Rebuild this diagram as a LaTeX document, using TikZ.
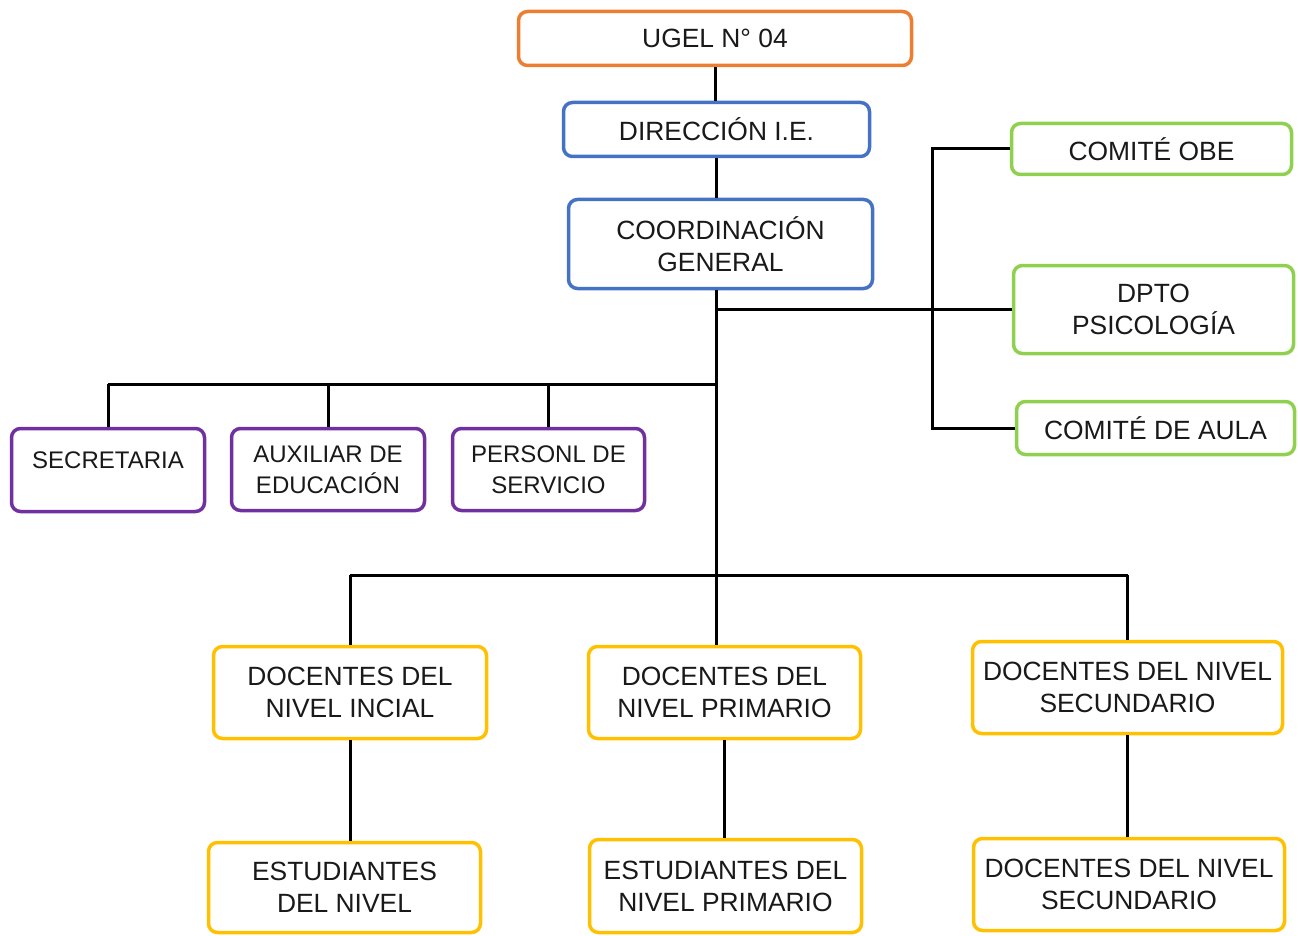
\documentclass[tikz,border=0pt]{standalone}
\usepackage{fontspec}
\setmainfont{Liberation Sans}
\usepackage{tikz}
\usepackage{xcolor}
\definecolor{ugel-orange}{HTML}{ED7D31}
\definecolor{dir-blue}{HTML}{4472C4}
\definecolor{com-green}{HTML}{8FD14F}
\definecolor{staff-purple}{HTML}{7030A0}
\definecolor{level-yellow}{HTML}{FFC000}
\tikzset{
    org-box/.style = {draw, fill=white, line width=3.5pt, rectangle, rounded corners=9pt, align=center, text=black!90, font=\fontsize{26.4}{32}\selectfont, inner sep=1pt},
    ugel-box/.style = {org-box, draw=ugel-orange},
    dir-box/.style = {org-box, draw=dir-blue},
    com-box/.style = {org-box, draw=com-green},
    staff-box/.style = {org-box, draw=staff-purple, font=\fontsize{24}{31}\selectfont},
    level-box/.style = {org-box, draw=level-yellow},
    org-line/.style = {draw=black, line width=3pt},
}

\begin{document}
\begin{tikzpicture}[x=1pt, y=-1pt]
\useasboundingbox (0,0) rectangle (1298,936);
\node[ugel-box, minimum width=393pt, minimum height=54pt] (ugel) at (715,38.5) {UGEL N° 04};
\node[dir-box, minimum width=306pt, minimum height=54pt] (dir) at (716.5,129.5) {DIRECCIÓN I.E.};
\node[dir-box, minimum width=304pt, minimum height=89pt] (coord) at (720.5,244) {COORDINACIÓN\\GENERAL};

\node[com-box, minimum width=280pt, minimum height=51pt] (obe) at (1151.5,149) {COMITÉ OBE};
\node[com-box, minimum width=280pt, minimum height=88pt] (dpto) at (1153.5,309.5) {DPTO\\PSICOLOGÍA};
\node[com-box, minimum width=278pt, minimum height=53pt] (aula) at (1155.5,428) {COMITÉ DE AULA};

\node[staff-box, minimum width=193pt, minimum height=83pt] (secre) at (108,470) {SECRETARIA\\[-11pt]~};
\node[staff-box, minimum width=193pt, minimum height=82pt] (aux) at (328,469.5) {AUXILIAR DE\\EDUCACIÓN};
\node[staff-box, minimum width=192pt, minimum height=82pt] (pers) at (548.5,469.5) {PERSONL DE\\SERVICIO};

\node[level-box, minimum width=273pt, minimum height=92pt] (doc-ini) at (350,692.5) {DOCENTES DEL\\NIVEL INCIAL};
\node[level-box, minimum width=272pt, minimum height=92pt] (doc-pri) at (724.5,692.5) {DOCENTES DEL\\NIVEL PRIMARIO};
\node[level-box, minimum width=310pt, minimum height=92pt] (doc-sec) at (1127.5,687.5) {DOCENTES DEL NIVEL\\SECUNDARIO};

\node[level-box, minimum width=272pt, minimum height=90pt] (est-ini) at (344.5,887.5) {ESTUDIANTES\\DEL NIVEL};
\node[level-box, minimum width=272pt, minimum height=93pt] (est-pri) at (725.5,886) {ESTUDIANTES DEL\\NIVEL PRIMARIO};
\node[level-box, minimum width=311pt, minimum height=92pt] (est-sec) at (1129,884.5) {DOCENTES DEL NIVEL\\SECUNDARIO};

\coordinate (trunk) at (716,290);
\coordinate (left-bar) at (716,384);
\coordinate (low-bar) at (716,575);
\coordinate (bracket) at (932,148);

\draw[org-line] (ugel.south) -- (ugel.south |- dir.north);
\draw[org-line] (dir.south) -- (dir.south |- coord.north);
\draw[org-line] (trunk) -- (trunk |- doc-pri.north);
\draw[org-line] (trunk |- dpto.west) -- (dpto.west);
\draw[org-line] (obe.west) -| (bracket |- aula.west) -- (aula.west);
\draw[org-line] (left-bar) -- (left-bar -| secre.north);
\foreach \n in {secre, aux, pers}
    \draw[org-line] (\n.north) -- (\n.north |- left-bar);
\draw[org-line] (low-bar -| doc-ini.north) -- (low-bar -| doc-sec.north);
\foreach \n in {doc-ini, doc-sec}
    \draw[org-line] (\n.north) -- (\n.north |- low-bar);
\draw[org-line] (doc-ini.south) -- (doc-ini.south |- est-ini.north);
\draw[org-line] (doc-pri.south) -- (doc-pri.south |- est-pri.north);
\draw[org-line] (doc-sec.south) -- (doc-sec.south |- est-sec.north);
\end{tikzpicture}
\end{document}
